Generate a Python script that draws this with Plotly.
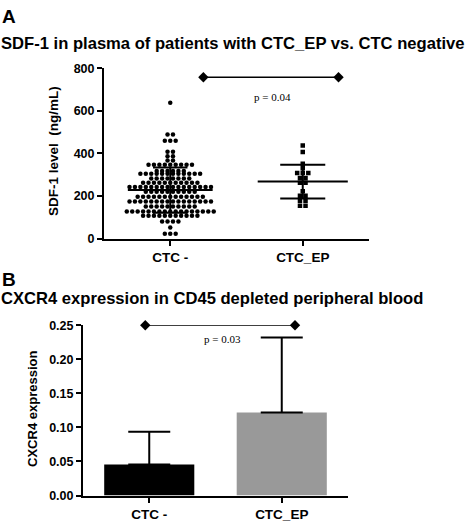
import plotly.graph_objects as go
from collections import Counter

# ---------------- data ----------------
categories = ["CTC -", "CTC_EP"]

# Panel A: SDF-1 plasma levels (ng/mL)
ctc_neg_values = (
    [638] + [489] * 2 + [460] * 3 + [408] * 2 + [387] * 2 + [367] * 2 +
    [347] * 9 + [318] * 6 + [305] * 12 + [283] * 8 + [262] * 11 +
    [242] * 16 + [220] * 10 + [197] * 13 + [174] * 16 + [151] * 10 +
    [128] * 17 + [108] * 11 + [80] * 4 + [52] * 1 + [23] * 3
)
ctc_ep_values = (
    [437, 407, 352, 330] + [308] * 3 + [285] * 2 + [262] * 2 + [222] +
    [201] * 2 + [178] * 2 + [155] * 2
)
a_means = [228, 268]
a_sds = [106, 79]
a_p_text = "p = 0.04"
a_sig_x = [0.25, 1.27]
a_sig_y = 758
a_yticks = [0, 200, 400, 600, 800]

# Panel B: CXCR4 expression
b_means = [0.0457, 0.122]
b_errors = [0.048, 0.110]
b_colors = ["#000000", "#999999"]
b_p_text = "p = 0.03"
b_sig_x = [-0.03, 1.1]
b_sig_y = 0.25
b_yticks = [0.00, 0.05, 0.10, 0.15, 0.20, 0.25]

# ---------------- helpers ----------------
SANS = "Liberation Sans, Arial, sans-serif"
SERIF = "Liberation Serif, Times New Roman, serif"


def beeswarm(values, center, spacing):
    counts = Counter(values)
    seen = Counter()
    xs, ys = [], []
    for v in values:
        n = counts[v]
        i = seen[v]
        seen[v] += 1
        xs.append(center + (i - (n - 1) / 2) * spacing)
        ys.append(v)
    return xs, ys


fig = go.Figure()

# ---------------- panel A ----------------
xa, ya = beeswarm(ctc_neg_values, 0, 0.041)
fig.add_trace(go.Scatter(x=xa, y=ya, mode="markers", xaxis="x", yaxis="y",
                         marker=dict(symbol="circle", size=4.5, color="black"),
                         showlegend=False, hoverinfo="y"))
xb, yb = beeswarm(ctc_ep_values, 1, 0.042)
fig.add_trace(go.Scatter(x=xb, y=yb, mode="markers", xaxis="x", yaxis="y",
                         marker=dict(symbol="square", size=4.5, color="black"),
                         showlegend=False, hoverinfo="y"))

mean_half = [0.32, 0.34]
sd_half = [0.13, 0.17]
for i, (m, s) in enumerate(zip(a_means, a_sds)):
    c = i
    fig.add_trace(go.Scatter(x=[c - mean_half[i], c + mean_half[i]], y=[m, m],
                             mode="lines", xaxis="x", yaxis="y",
                             line=dict(color="black", width=2),
                             showlegend=False, hoverinfo="skip"))
    for yv in (m - s, m + s):
        fig.add_trace(go.Scatter(x=[c - sd_half[i], c + sd_half[i]], y=[yv, yv],
                                 mode="lines", xaxis="x", yaxis="y",
                                 line=dict(color="black", width=2),
                                 showlegend=False, hoverinfo="skip"))
    fig.add_trace(go.Scatter(x=[c, c], y=[m - s, m + s],
                             mode="lines", xaxis="x", yaxis="y",
                             line=dict(color="black", width=2),
                             showlegend=False, hoverinfo="skip"))

fig.add_trace(go.Scatter(x=a_sig_x, y=[a_sig_y, a_sig_y], mode="lines+markers",
                         xaxis="x", yaxis="y", cliponaxis=False,
                         line=dict(color="black", width=1.3),
                         marker=dict(symbol="diamond", size=8, color="black"),
                         showlegend=False, hoverinfo="skip"))

# ---------------- panel B ----------------
fig.add_trace(go.Bar(x=[0, 1], y=b_means, xaxis="x2", yaxis="y2", width=0.68,
                     marker=dict(color=b_colors, line=dict(width=0)),
                     error_y=dict(type="data", array=b_errors,
                                  arrayminus=[0, 0], symmetric=False,
                                  color="black", thickness=2, width=21),
                     showlegend=False, hoverinfo="y"))
fig.add_trace(go.Scatter(x=b_sig_x, y=[b_sig_y, b_sig_y], mode="lines+markers",
                         xaxis="x2", yaxis="y2", cliponaxis=False,
                         line=dict(color="black", width=1.3),
                         marker=dict(symbol="diamond", size=8, color="black"),
                         showlegend=False, hoverinfo="skip"))

tickfont = dict(family=SANS, size=12.5, color="black", weight=700)
axis_common = dict(showline=True, linecolor="black", linewidth=2,
                   ticks="outside", ticklen=5, tickwidth=2, tickcolor="black",
                   showgrid=False, zeroline=False, tickfont=tickfont)

W, H = 473, 523
fig.update_layout(
    width=W, height=H,
    margin=dict(l=0, r=0, t=0, b=0),
    paper_bgcolor="white", plot_bgcolor="white",
    xaxis=dict(domain=[104 / W, 369 / W], range=[-0.5, 1.5],
               tickvals=[0, 1], ticktext=categories, anchor="y",
               **axis_common),
    yaxis=dict(domain=[1 - 238 / H, 1 - 63 / H], range=[0, 800],
               tickvals=a_yticks, anchor="x", **axis_common),
    xaxis2=dict(domain=[83 / W, 348 / W], range=[-0.5, 1.5],
                tickvals=[0, 1], ticktext=categories, anchor="y2",
                **axis_common),
    yaxis2=dict(domain=[1 - 502 / H, 1 - 327 / H], range=[0, 0.25],
                tickvals=b_yticks, tickformat=".2f", anchor="x2", **axis_common),
)
fig.update_xaxes(tickfont_size=13.5)

title_font = dict(family=SANS, size=16.6, color="black", weight=700)
annots = [
    dict(text="A", x=0, y=10, font=dict(family=SANS, size=19, color="black", weight=700)),
    dict(text="SDF-1 in plasma of patients with CTC_EP vs. CTC negative", x=-1, y=37, font=title_font),
    dict(text="B", x=0, y=280, font=dict(family=SANS, size=19, color="black", weight=700)),
    dict(text="CXCR4 expression in CD45 depleted peripheral blood", x=-1, y=300, font=title_font),
]
for a in annots:
    fig.add_annotation(text=a["text"], xref="paper", yref="paper",
                       x=a["x"] / W, y=1 - a["y"] / H, xanchor="left", yanchor="middle",
                       showarrow=False, font=a["font"])

fig.add_annotation(text="SDF-1 level&nbsp; (ng/mL)", xref="paper", yref="paper",
                   x=53 / W, y=1 - 148 / H, textangle=-90, showarrow=False,
                   xanchor="center", yanchor="middle",
                   font=dict(family=SANS, size=13.5, color="black", weight=700))
fig.add_annotation(text="CXCR4 expression", xref="paper", yref="paper",
                   x=33 / W, y=1 - 413 / H, textangle=-90, showarrow=False,
                   xanchor="center", yanchor="middle",
                   font=dict(family=SANS, size=13, color="black", weight=700))

fig.add_annotation(text=a_p_text, xref="x", yref="y", x=0.77, y=667, showarrow=False,
                   font=dict(family=SERIF, size=11, color="black"))
fig.add_annotation(text=b_p_text, xref="x2", yref="y2", x=0.55, y=0.23, showarrow=False,
                   font=dict(family=SERIF, size=11, color="black"))

fig.write_html("out.html", config={"displayModeBar": False},
               post_script="document.body.style.margin='0';document.body.style.overflow='hidden';")
